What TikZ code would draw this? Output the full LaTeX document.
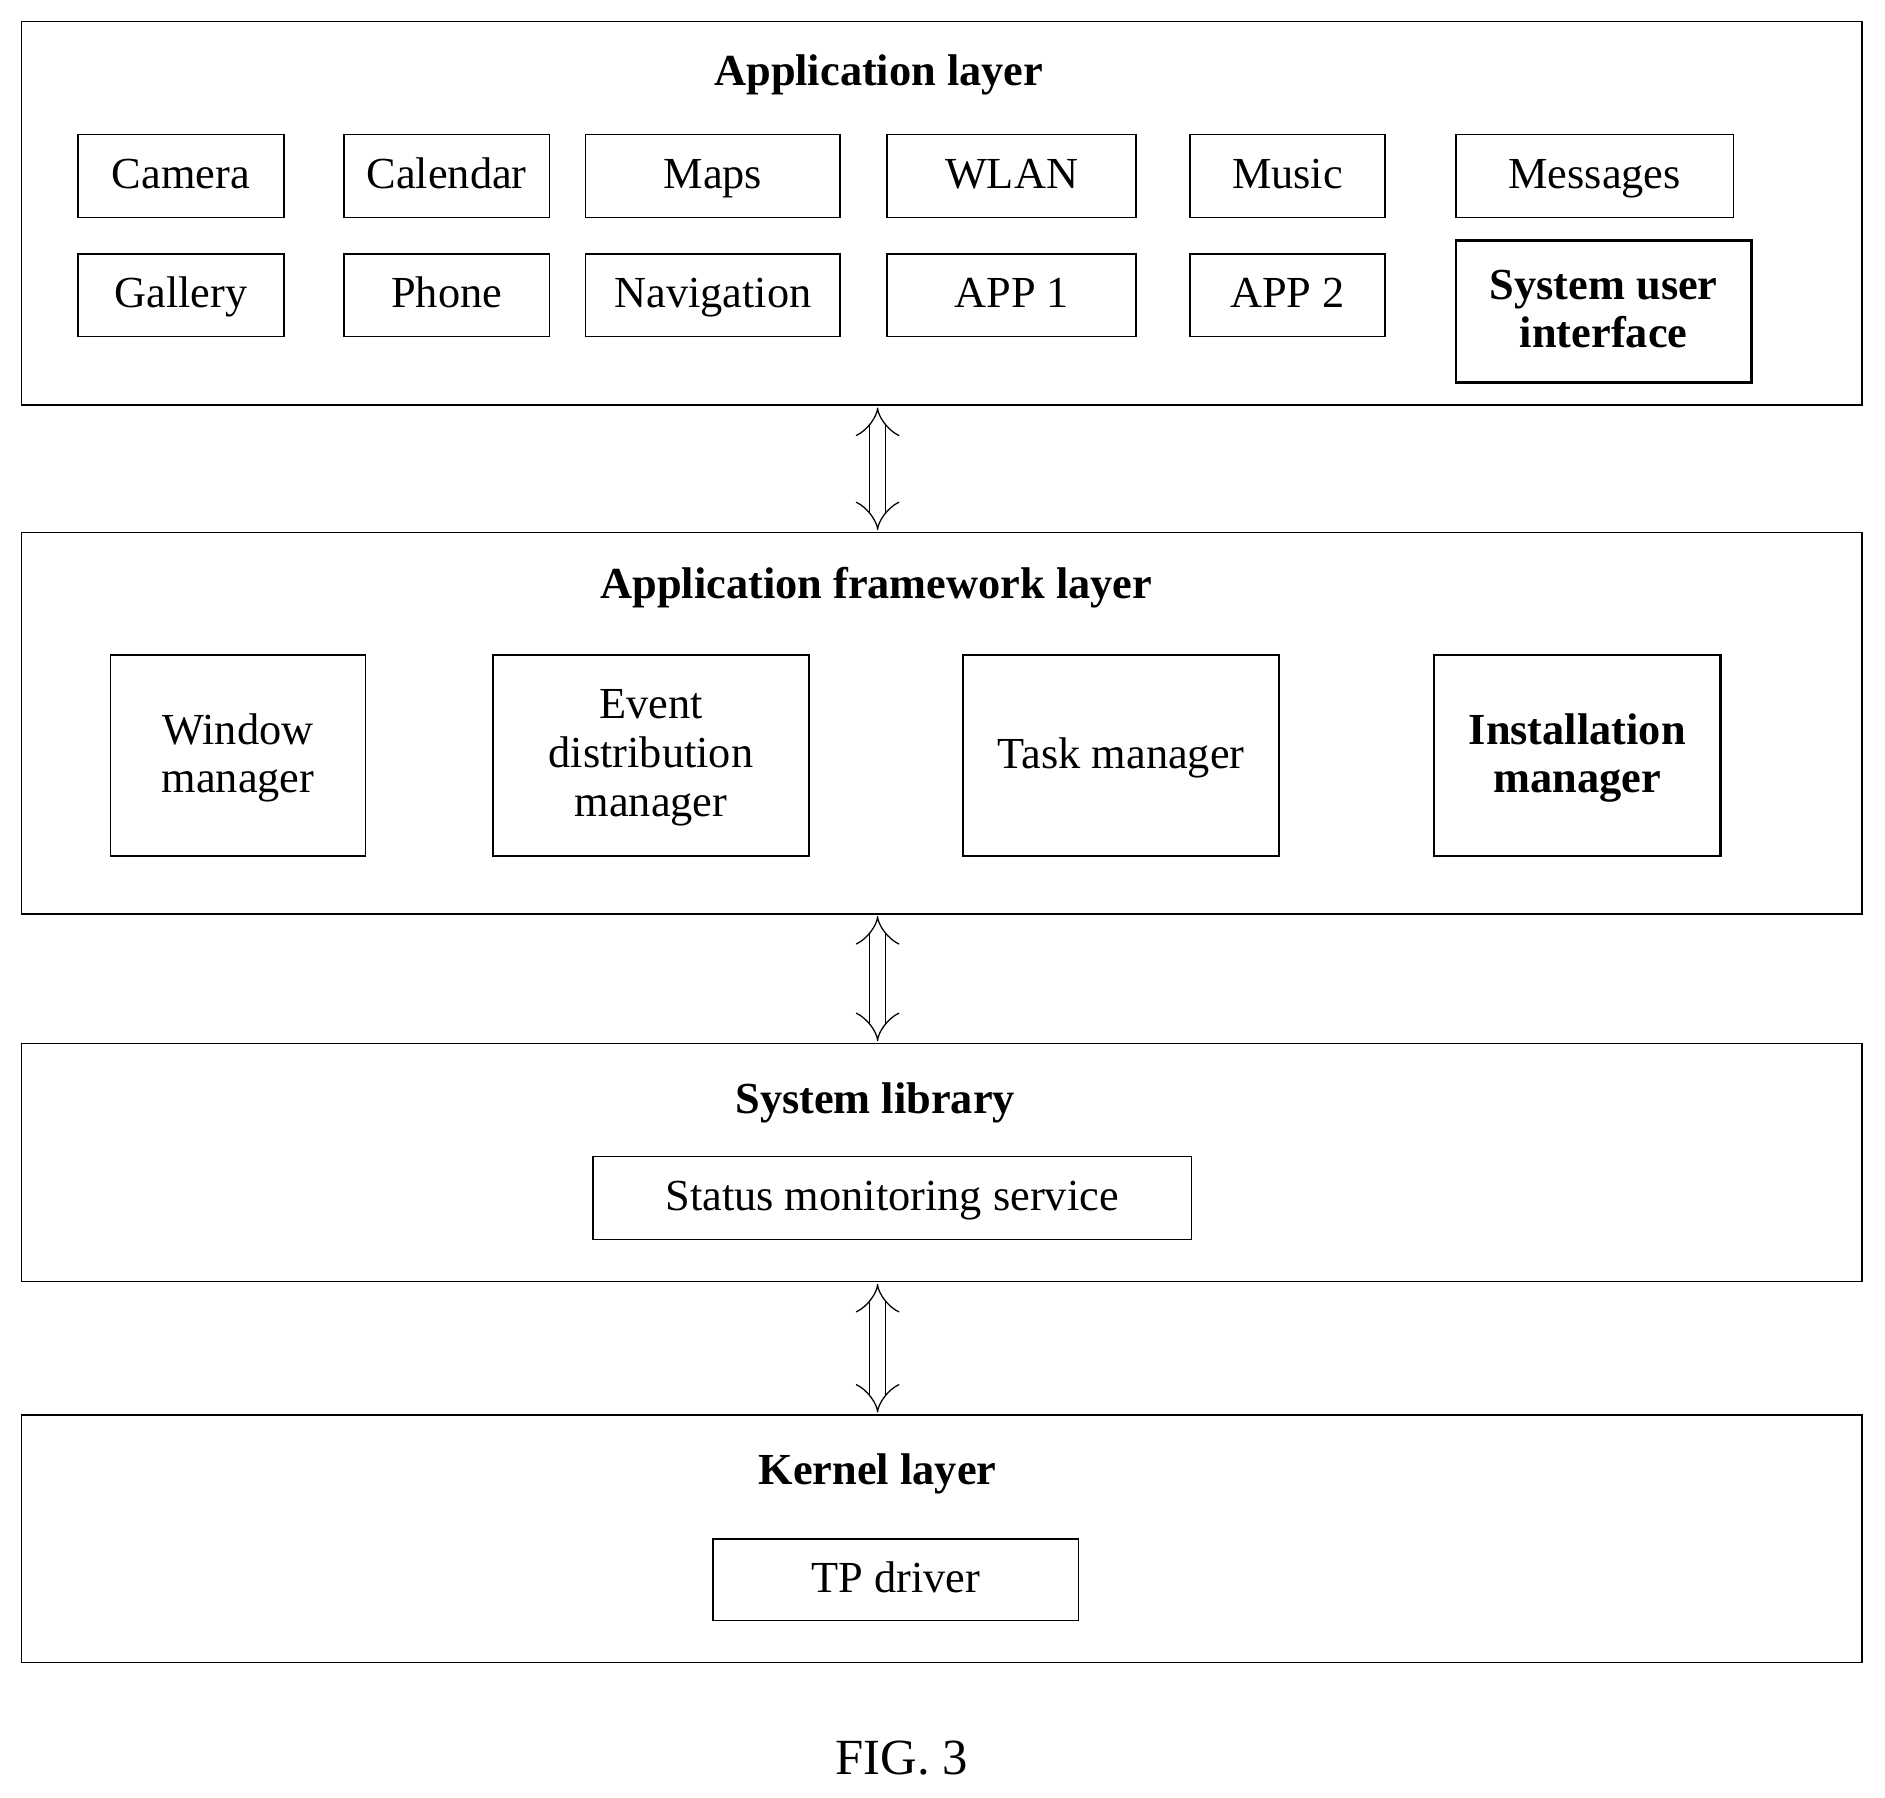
\documentclass[tikz,border=0pt]{standalone}
\usepackage{fontspec}
\setmainfont{Liberation Serif}
\usetikzlibrary{positioning,arrows.meta}
\tikzset{
layer/.style={draw=black, thick},
cell/.style 2 args={rectangle, draw=black, thick, inner sep=0pt, align=center,
  minimum width=#1*0.02cm, minimum height=#2*0.02cm, text depth=0.25em,
  font=\fontsize{21}{23}\selectfont},
keycell/.style={very thick, font=\fontsize{21}{23}\selectfont\bfseries},
title/.style={font=\fontsize{21}{23}\selectfont\bfseries},
link/.style={double distance=7pt, semithick, {Implies[]}-{Implies[]}},
}
\begin{document}
\begin{tikzpicture}[x=0.02cm, y=-0.02cm]
\useasboundingbox (0,0) rectangle (1568,1495);

% application layer
\draw[layer] (18,18) rectangle (1549,337);
\node[title] (apptitle) at (731,62) {Application layer};
\node[cell={171}{69}] (camera) at (150.5,146.5) {Camera};
\node[cell={171}{69}] (calendar) at (371.5,146.5) {Calendar};
\node[cell={212}{69}] (maps) at (593,146.5) {Maps};
\node[cell={207}{69}] (wlan) at (841.5,146.5) {WLAN};
\node[cell={162}{69}] (music) at (1071,146.5) {Music};
\node[cell={231}{69}] (messages) at (1326.5,146.5) {Messages};
\node[cell={171}{69}] (gallery) at (150.5,245.5) {Gallery};
\node[cell={171}{69}] (phone) at (371.5,245.5) {Phone};
\node[cell={212}{69}] (navigation) at (593,245.5) {Navigation};
\node[cell={207}{69}] (app1) at (841.5,245.5) {APP 1};
\node[cell={162}{69}] (app2) at (1071,245.5) {APP 2};
\node[cell={246}{118}, keycell] (sysui) at (1334,259) {System user\\interface};

% application framework layer
\draw[layer] (18,443) rectangle (1549,760);
\node[title] (fwtitle) at (729,489) {Application framework layer};
\node[cell={212}{167}] (window) at (198,628.5) {Window\\manager};
\node[cell={263}{167}] (event) at (541.5,628.5) {Event\\distribution\\manager};
\node[cell={263}{167}] (task) at (932.5,628.5) {Task manager};
\node[cell={238}{167}, keycell] (install) at (1312,628.5) {Installation\\manager};

% system library
\draw[layer] (18,868) rectangle (1549,1066);
\node[title] (libtitle) at (728,917) {System library};
\node[cell={498}{69}] (status) at (742,996.5) {Status monitoring service};

% kernel layer
\draw[layer] (18,1177) rectangle (1549,1383);
\node[title] (kerntitle) at (730,1226) {Kernel layer};
\node[cell={304}{68}] (tp) at (745,1314) {TP driver};

% links between layers
\coordinate (a1) at (730,339); \coordinate (a2) at (730,441);
\coordinate (b1) at (730,762); \coordinate (b2) at (730,866);
\coordinate (c1) at (730,1068); \coordinate (c2) at (730,1175);
\draw[link] (a1) -- (a2);
\draw[link] (b1) -- (b2);
\draw[link] (c1) -- (c2);

\node[font=\fontsize{24}{26}\selectfont] (fig) at (750,1462) {FIG. 3};
\end{tikzpicture}
\end{document}
